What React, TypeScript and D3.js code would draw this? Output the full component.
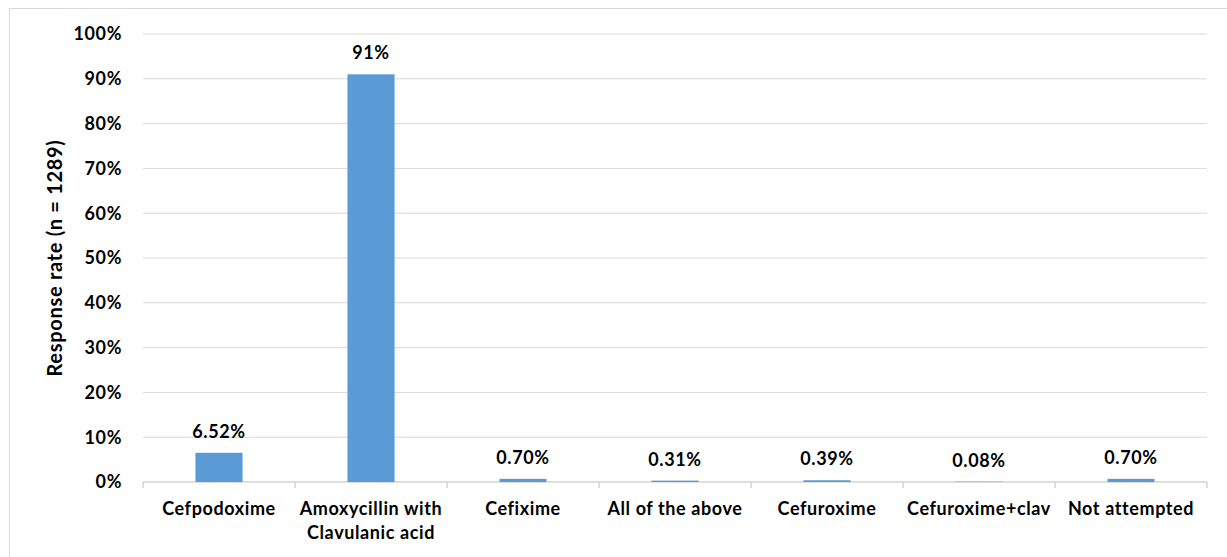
import React from "react";
import * as d3 from "d3";

const categories = [
  ["Cefpodoxime"],
  ["Amoxycillin with", "Clavulanic acid"],
  ["Cefixime"],
  ["All of the above"],
  ["Cefuroxime"],
  ["Cefuroxime+clav"],
  ["Not attempted"],
];
const values = [6.52, 91, 0.7, 0.31, 0.39, 0.08, 0.7];
const valueLabels = ["6.52%", "91%", "0.70%", "0.31%", "0.39%", "0.08%", "0.70%"];
const yTicks = [0, 10, 20, 30, 40, 50, 60, 70, 80, 90, 100];
const yTitle = "Response rate (n = 1289)";

const W = 1227;
const H = 557;
const left = 143;
const right = 1207;
const top = 34;
const bottom = 482;
const font = "Lato, 'Open Sans', sans-serif";
const fs = 18;
const ls = 0.6;

export default function App() {
  const idx = categories.map((_, i) => i);
  const x = d3.scaleBand<number>().domain(idx).range([left, right]).paddingInner(0.69).paddingOuter(0.345);
  const band = (right - left) / categories.length;
  const y = d3.scaleLinear().domain([0, 100]).range([bottom, top]);
  return (
    <svg width={W} height={H} style={{ position: "absolute", left: 0, top: 0 }} fontFamily={font}>
      <rect x={0} y={0} width={W} height={H} fill="#fff" />
      <rect x={9.5} y={8.5} width={W + 10} height={H + 10} fill="none" stroke="#d9d9d9" strokeWidth={1} />
      {yTicks.map((t) => (
        <g key={t}>
          {t > 0 && <line x1={left} x2={right} y1={y(t)} y2={y(t)} stroke="#d9d9d9" strokeWidth={1} />}
          <text x={left - 21} y={y(t)} dy="0.36em" textAnchor="end" fontSize={fs} fontWeight={700} letterSpacing={ls} fill="#000">
            {t}%
          </text>
        </g>
      ))}
      <line x1={left} x2={right} y1={bottom} y2={bottom} stroke="#bfbfbf" strokeWidth={1} />
      {d3.range(categories.length + 1).map((i) => (
        <line key={i} x1={left + i * band} x2={left + i * band} y1={bottom} y2={bottom + 6} stroke="#bfbfbf" strokeWidth={1} />
      ))}
      {values.map((v, i) => (
        <g key={i}>
          <rect x={x(i)!} y={y(v)} width={x.bandwidth()} height={bottom - y(v)} fill="#5B9BD5" />
          <text x={x(i)! + x.bandwidth() / 2} y={y(v) - 15} textAnchor="middle" fontSize={fs} fontWeight={700} letterSpacing={ls} fill="#000">
            {valueLabels[i]}
          </text>
        </g>
      ))}
      {categories.map((lines, i) => (
        <text key={i} x={x(i)! + x.bandwidth() / 2} y={515} textAnchor="middle" fontSize={fs} fontWeight={700} letterSpacing={ls} fill="#000">
          {lines.map((l, j) => (
            <tspan key={j} x={x(i)! + x.bandwidth() / 2} dy={j === 0 ? 0 : 24}>
              {l}
            </tspan>
          ))}
        </text>
      ))}
      <text
        transform={`translate(62, 258) rotate(-90)`}
        textAnchor="middle"
        fontSize={20}
        fontWeight={700}
        letterSpacing={0.7}
        fill="#000"
      >
        {yTitle}
      </text>
    </svg>
  );
}
